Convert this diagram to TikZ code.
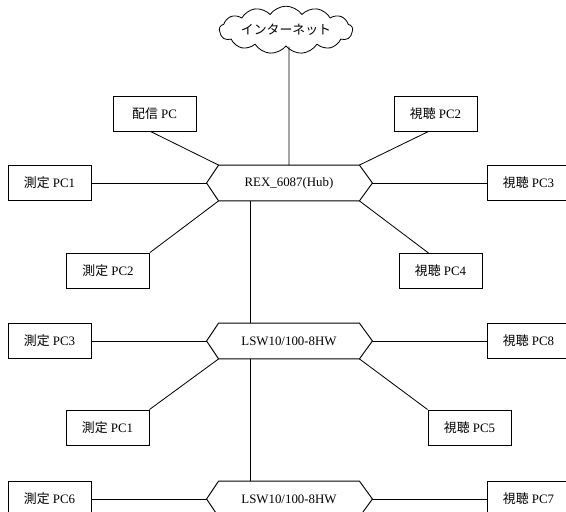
\documentclass[tikz,border=0pt]{standalone}
\usepackage{fontspec}
\setmainfont{Liberation Serif}
\newfontfamily\jp{Noto Sans CJK JP}
\usetikzlibrary{calc,shapes.symbols}

\begin{document}
\begin{tikzpicture}[x=0.03cm, y=-0.03cm, line width=0.7pt,
    font=\fontsize{11}{13}\selectfont,
    pcbox/.style={draw, line width=0.8pt, minimum width=2.49cm,
      minimum height=1.05cm, inner sep=0pt},
    hub/.style={minimum width=4.2cm, minimum height=1.05cm, inner sep=0pt},
    net/.style={cloud, draw, cloud puffs=13, cloud puff arc=110, aspect=3.9,
      minimum width=4.0cm, minimum height=1.05cm, inner sep=0pt}]
  \clip (0,0) rectangle (566,512);

  % the internet on top
  \node[net] (inet) at (286,30) {\jp インターネット};

  % the three hubs, one per row
  \node[hub] (h1) at (289,183) {REX\_6087(Hub)};
  \node[hub] (h2) at (289,341) {LSW10/100-8HW};
  \node[hub] (h3) at (289,499) {LSW10/100-8HW};
  \foreach \h in {h1,h2,h3} {
    \coordinate (\h-l) at ($(\h.west)+(-12,0)$);
    \coordinate (\h-r) at ($(\h.east)+(13,0)$);
    \coordinate (\h-up) at ($(\h.north)+(-39,0)$);
    \coordinate (\h-dn) at ($(\h.south)+(-39,0)$);
    \draw[line width=0.8pt] (\h.north west) -- (\h.north east) -- (\h-r)
      -- (\h.south east) -- (\h.south west) -- (\h-l) -- cycle;
  }

  % PCs round the first hub
  \node[pcbox] (send) at (154.5,113.5) {{\jp 配信} PC};
  \node[pcbox] (v2) at (435.5,113.5) {{\jp 視聴} PC2};
  \node[pcbox] (m1) at (49.5,183) {{\jp 測定} PC1};
  \node[pcbox] (v3) at (528.5,183) {{\jp 視聴} PC3};
  \node[pcbox] (m2) at (108,270.5) {{\jp 測定} PC2};
  \node[pcbox] (v4) at (440.5,271) {{\jp 視聴} PC4};

  % PCs round the second hub
  \node[pcbox] (m3) at (49.5,341) {{\jp 測定} PC3};
  \node[pcbox] (v8) at (528.5,341) {{\jp 視聴} PC8};
  \node[pcbox] (m1b) at (107.5,427.5) {{\jp 測定} PC1};
  \node[pcbox] (v5) at (469.5,427.5) {{\jp 視聴} PC5};

  % PCs at the third hub
  \node[pcbox] (m6) at (49.5,499) {{\jp 測定} PC6};
  \node[pcbox] (v7) at (528.5,499) {{\jp 視聴} PC7};

  % links
  \draw ($(inet.south)+(3,0)$) -- (h1.north);
  \draw (h1-dn) -- (h2-up);
  \draw (h2-dn) -- (h3-up);

  \draw ($(send.south)+(-4,0)$) -- (h1.north west);
  \draw ($(v2.south)+(-7,0)$) -- (h1.north east);
  \draw (m1.east) -- (h1-l);
  \draw (h1-r) -- (v3.west);
  \draw (m2.north east) -- (h1.south west);
  \draw ($(v4.north west)+(30,0)$) -- (h1.south east);

  \draw (m3.east) -- (h2-l);
  \draw (h2-r) -- (v8.west);
  \draw (m1b.north east) -- (h2.south west);
  \draw (v5.north west) -- (h2.south east);

  \draw (m6.east) -- (h3-l);
  \draw (h3-r) -- (v7.west);
\end{tikzpicture}
\end{document}
